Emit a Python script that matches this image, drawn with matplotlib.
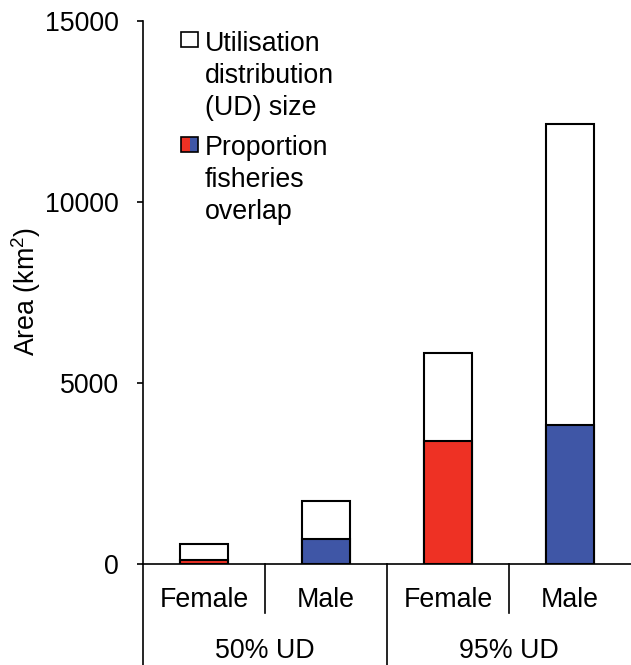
import matplotlib
matplotlib.use("Agg")
import matplotlib.pyplot as plt
from matplotlib.lines import Line2D
from matplotlib.patches import Rectangle
from matplotlib.transforms import blended_transform_factory

# ---- data ----
groups = ["50% UD", "95% UD"]
sexes = ["Female", "Male", "Female", "Male"]
ud_size = [545, 1720, 5810, 12150]
overlap = [100, 690, 3400, 3840]
yticks = [0, 5000, 10000, 15000]
legend_labels = [["Utilisation", "distribution", "(UD) size"],
                 ["Proportion", "fisheries", "overlap"]]

RED = "#EE3124"
BLUE = "#3F56A6"
sex_color = {"Female": RED, "Male": BLUE}

plt.rcParams["font.family"] = ["Liberation Sans", "DejaVu Sans"]
plt.rcParams["mathtext.fontset"] = "custom"
plt.rcParams["mathtext.rm"] = "Liberation Sans"
plt.rcParams["mathtext.it"] = "Liberation Sans"
plt.rcParams["mathtext.default"] = "regular"
FS = 19.3
W, H = 631, 665

fig = plt.figure(figsize=(W / 100, H / 100), dpi=100)

def fx(x):
    return x / W

def fy(y):
    return 1 - y / H

ax_left, ax_right, ax_top, ax_bottom = 143, 631, 21, 563.5
ax = fig.add_axes([fx(ax_left), fy(ax_bottom), fx(ax_right - ax_left), (ax_bottom - ax_top) / H])

xs = list(range(len(sexes)))
bw = 0.40
ax.bar(xs, ud_size, width=bw, color="white", edgecolor="black", linewidth=1.5, zorder=2)
ax.bar(xs, overlap, width=bw, color=[sex_color[s] for s in sexes],
       edgecolor="black", linewidth=1.5, zorder=3)

ax.set_xlim(-0.5, len(sexes) - 0.5)
ax.set_ylim(0, 15000)
ax.set_yticks(yticks)
ax.set_yticklabels([str(v) for v in yticks], fontsize=FS)
ax.tick_params(axis="y", direction="out", length=4.5, width=1.2, pad=13)
ax.set_xticks([])
for s in ["top", "right"]:
    ax.spines[s].set_visible(False)
for s in ["left", "bottom"]:
    ax.spines[s].set_linewidth(1.2)

# category / group structure below the axis
tr = blended_transform_factory(ax.transData, fig.transFigure)
y_axis_fig = fy(ax_bottom)
for xb, ybot in [(-0.5, 0.0), (0.5, fy(613)), (1.5, 0.0), (2.5, fy(613))]:
    ax.add_line(Line2D([xb, xb], [y_axis_fig, ybot], transform=tr, color="black",
                       linewidth=1.2, clip_on=False))

for x, s in zip(xs, sexes):
    ax.text(x, fy(607), s, transform=tr, ha="center", va="baseline", fontsize=FS)
for gi, g in enumerate(groups):
    ax.text(gi * 2 + 0.5, fy(658), g, transform=tr, ha="center", va="baseline", fontsize=FS)

# y label
fig.text(fx(26), fy(291), "Area (km$^{2}$)", rotation=90, ha="center", va="center", fontsize=FS)

# legend (manual)
sq_x0, sq_x1 = 181, 198
text_x = 205
# first entry
fig.patches.append(Rectangle((fx(sq_x0), fy(47)), fx(sq_x1 - sq_x0), (47 - 32) / H,
                             transform=fig.transFigure, facecolor="white",
                             edgecolor="black", linewidth=1.2))
for i, line in enumerate(legend_labels[0]):
    fig.text(fx(text_x), fy(51 + i * 32), line, ha="left", va="baseline", fontsize=FS)
# second entry (split red/blue)
half = (sq_x1 - sq_x0) / 2
fig.patches.append(Rectangle((fx(sq_x0), fy(152)), fx(half), (152 - 137) / H,
                             transform=fig.transFigure, facecolor=RED,
                             edgecolor="none"))
fig.patches.append(Rectangle((fx(sq_x0 + half), fy(152)), fx(half), (152 - 137) / H,
                             transform=fig.transFigure, facecolor=BLUE,
                             edgecolor="none"))
fig.patches.append(Rectangle((fx(sq_x0), fy(152)), fx(sq_x1 - sq_x0), (152 - 137) / H,
                             transform=fig.transFigure, facecolor="none",
                             edgecolor="black", linewidth=1.2))
for i, line in enumerate(legend_labels[1]):
    fig.text(fx(text_x), fy(155 + i * 32), line, ha="left", va="baseline", fontsize=FS)

fig.savefig("out.png", dpi=100)
